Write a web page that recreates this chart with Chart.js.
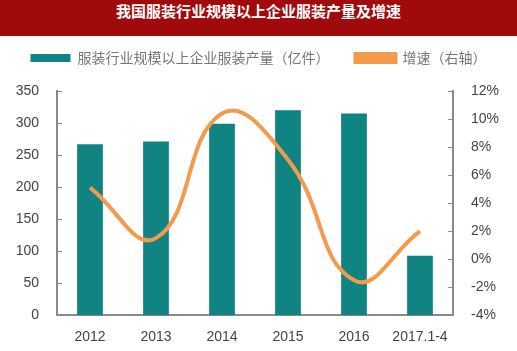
<!DOCTYPE html>
<html>
<head>
<meta charset="utf-8">
<script src="https://cdn.jsdelivr.net/npm/chart.js@4"></script>
<style>
  html, body { margin: 0; padding: 0; background: #fff; }
  #title { width: 517px; height: 36px; line-height: 36px; background: #a10a0a; color: #fff;
           text-align: center; font: bold 15px "Noto Sans CJK SC", sans-serif; }
  #wrap { width: 517px; height: 315px; position: relative; }
</style>
</head>
<body>
<div id="title">我国服装行业规模以上企业服装产量及增速</div>
<div id="wrap"><canvas id="chart"></canvas></div>
<script>
const years = ['2012', '2013', '2014', '2015', '2016', '2017.1-4'];
const output = [267, 271, 299, 320, 315, 93];
const growth = [5.1, 1.5, 10.4, 7.1, -1.5, 2.0];

// short tick marks pointing into the plot, like the original
const innerTicks = {
    id: 'innerTicks',
    afterDraw(chart) {
        const c = chart.ctx;
        c.save();
        c.strokeStyle = '#8a8a8a';
        c.lineWidth = 1;
        const yl = chart.scales.y, yr = chart.scales.y1;
        yl.ticks.forEach(t => {
            const p = Math.round(yl.getPixelForValue(t.value)) + 0.5;
            c.beginPath(); c.moveTo(yl.right, p); c.lineTo(yl.right + 5, p); c.stroke();
        });
        yr.ticks.forEach(t => {
            const p = Math.round(yr.getPixelForValue(t.value)) + 0.5;
            c.beginPath(); c.moveTo(yr.left, p); c.lineTo(yr.left - 5, p); c.stroke();
        });
        c.restore();
    }
};

// extra room under the legend
const legendGap = {
    id: 'legendGap',
    beforeInit(chart) {
        const fit = chart.legend.fit;
        chart.legend.fit = function () {
            fit.bind(chart.legend)();
            this.height += 16;
        };
    }
};

new Chart(document.getElementById('chart'), {
    data: {
        labels: years,
        datasets: [{
            type: 'line',
            label: '增速（右轴）',
            data: growth,
            yAxisID: 'y1',
            borderColor: '#f39a4c',
            backgroundColor: '#f39a4c',
            borderWidth: 4,
            pointRadius: 0,
            tension: 0.45,
            order: 0
        }, {
            type: 'bar',
            label: '服装行业规模以上企业服装产量（亿件）',
            data: output,
            yAxisID: 'y',
            backgroundColor: '#0f8482',
            barPercentage: 0.39,
            categoryPercentage: 1,
            order: 1
        }]
    },
    plugins: [innerTicks, legendGap],
    options: {
        responsive: true,
        maintainAspectRatio: false,
        animation: false,
        layout: { padding: { left: 0, right: 0, top: -11, bottom: -1 } },
        plugins: {
            legend: {
                reverse: true,
                labels: {
                    boxWidth: 40, boxHeight: 8, padding: 26,
                    color: '#777',
                    font: { family: '"Noto Sans CJK SC", sans-serif', size: 14 }
                }
            },
            tooltip: { enabled: false }
        },
        scales: {
            x: {
                grid: { display: false },
                border: { color: '#8a8a8a', width: 2 },
                ticks: { color: '#444', font: { family: '"Liberation Sans", Arial', size: 14 }, maxRotation: 0, padding: 6 }
            },
            y: {
                position: 'left',
                min: 0, max: 350,
                afterFit(s) { s.width = 57; },
                grid: { display: false },
                border: { color: '#8a8a8a', width: 2 },
                ticks: { stepSize: 50, color: '#444', font: { family: '"Liberation Sans", Arial', size: 14 }, padding: 10 }
            },
            y1: {
                position: 'right',
                min: -4, max: 12,
                afterFit(s) { s.width = 64; },
                grid: { display: false },
                border: { color: '#8a8a8a', width: 2 },
                ticks: { stepSize: 2, color: '#444', font: { family: '"Liberation Sans", Arial', size: 14 }, padding: 10,
                         callback: v => v + '%' }
            }
        }
    }
});
</script>
</body>
</html>
